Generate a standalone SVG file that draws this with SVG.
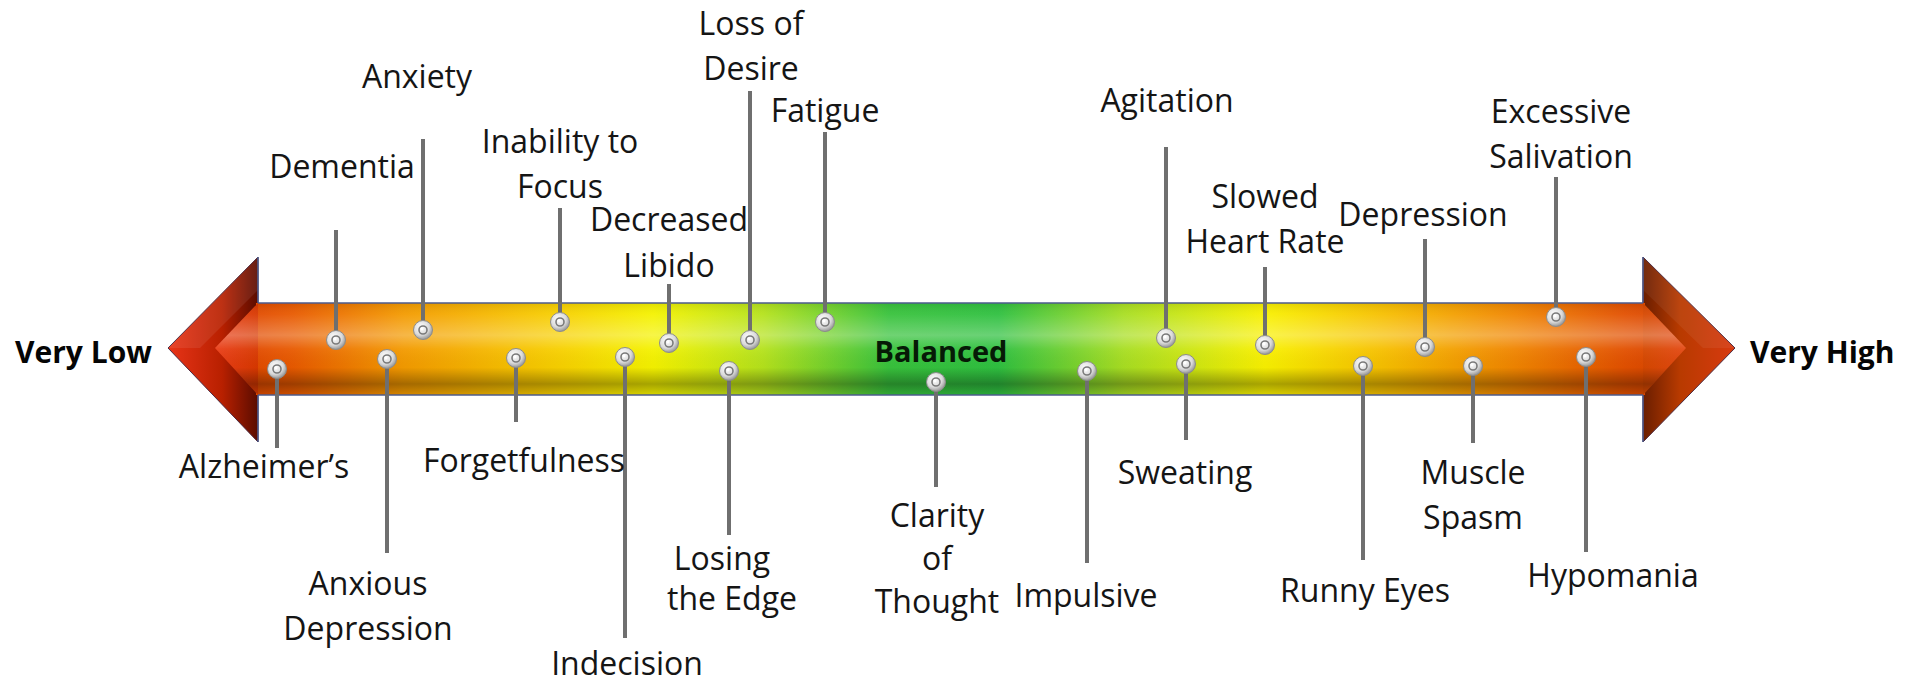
<svg xmlns="http://www.w3.org/2000/svg" xmlns:xlink="http://www.w3.org/1999/xlink" width="1908" height="686" viewBox="0 0 1908 686">
<style>
.lbl{font-family:"Open Sans","Liberation Sans",sans-serif;font-size:32px;fill:#151515;text-anchor:middle}
.end{font-family:"Open Sans","Liberation Sans",sans-serif;font-size:30px;font-weight:bold;fill:#050505}
.bal{font-family:"Open Sans","Liberation Sans",sans-serif;font-size:29px;font-weight:bold;fill:#061a06}
#connectors line{stroke:#6f6f6f;stroke-width:4}
.edge{stroke:#4d5b8c;stroke-width:1.5;fill:none}
</style>
<defs>
<linearGradient id="shaftG" gradientUnits="userSpaceOnUse" x1="168" y1="0" x2="1735" y2="0">
<stop offset="0" stop-color="#d42a00"/>
<stop offset="0.08" stop-color="#e85a00"/>
<stop offset="0.15" stop-color="#f39a00"/>
<stop offset="0.25" stop-color="#f7d000"/>
<stop offset="0.31" stop-color="#f4f200"/>
<stop offset="0.38" stop-color="#b4e21c"/>
<stop offset="0.46" stop-color="#38c23c"/>
<stop offset="0.53" stop-color="#2fc040"/>
<stop offset="0.61" stop-color="#a8de22"/>
<stop offset="0.70" stop-color="#f8f000"/>
<stop offset="0.78" stop-color="#f6bc00"/>
<stop offset="0.86" stop-color="#f08400"/>
<stop offset="0.93" stop-color="#e25000"/>
<stop offset="1" stop-color="#c83000"/>
</linearGradient>
<linearGradient id="shadeG" gradientUnits="userSpaceOnUse" x1="0" y1="303" x2="0" y2="395">
<stop offset="0" stop-color="#000" stop-opacity="0.08"/>
<stop offset="0.12" stop-color="#fff" stop-opacity="0.05"/>
<stop offset="0.35" stop-color="#fff" stop-opacity="0.28"/>
<stop offset="0.5" stop-color="#fff" stop-opacity="0.05"/>
<stop offset="0.7" stop-color="#000" stop-opacity="0.02"/>
<stop offset="0.88" stop-color="#000" stop-opacity="0.32"/>
<stop offset="1" stop-color="#000" stop-opacity="0.12"/>
</linearGradient>
<linearGradient id="headL" gradientUnits="userSpaceOnUse" x1="168" y1="0" x2="258" y2="0">
<stop offset="0" stop-color="#e83418"/>
<stop offset="0.6" stop-color="#b82000"/>
<stop offset="1" stop-color="#5a0c00"/>
</linearGradient>
<linearGradient id="headR" gradientUnits="userSpaceOnUse" x1="1735" y1="0" x2="1643" y2="0">
<stop offset="0" stop-color="#d83a10"/>
<stop offset="0.6" stop-color="#b83a00"/>
<stop offset="1" stop-color="#6a1e00"/>
</linearGradient>
<linearGradient id="innerL" gradientUnits="userSpaceOnUse" x1="200" y1="0" x2="258" y2="0">
<stop offset="0" stop-color="#f04020"/>
<stop offset="1" stop-color="#d83800"/>
</linearGradient>
<linearGradient id="innerR" gradientUnits="userSpaceOnUse" x1="1700" y1="0" x2="1643" y2="0">
<stop offset="0" stop-color="#e84818"/>
<stop offset="1" stop-color="#d64800"/>
</linearGradient>
<clipPath id="bodyClip">
<polygon points="258,303 1643,303 1686,348 1643,395 258,395 215,348"/>
</clipPath>
<radialGradient id="pinG" cx="0.4" cy="0.35" r="0.7">
<stop offset="0" stop-color="#ffffff"/>
<stop offset="0.6" stop-color="#dadada"/>
<stop offset="1" stop-color="#8a8a8a"/>
</radialGradient>
<g id="pin">
<circle r="9.5" fill="url(#pinG)" stroke="#8c8c8c" stroke-width="1"/>
<circle r="4" fill="none" stroke="#7a7a7a" stroke-width="1.6"/>
<circle cx="-1" cy="-1" r="1.4" fill="#fff"/>
</g>
</defs>
<rect width="1908" height="686" fill="#fff"/>

<g id="arrow">
<polygon points="258,257 168,348 258,442" fill="url(#headL)" stroke="#4d2a40" stroke-width="1"/>
<polygon points="1643,257 1735,348 1643,442" fill="url(#headR)" stroke="#4d2a40" stroke-width="1"/>
<rect x="256" y="303" width="1389" height="92" fill="url(#shaftG)"/>
<polygon points="258,303 215,348 258,395" fill="url(#innerL)"/>
<polygon points="1643,303 1686,348 1643,395" fill="url(#innerR)"/>
<rect x="200" y="303" width="1500" height="92" fill="url(#shadeG)" clip-path="url(#bodyClip)"/>
<polygon points="258,257 168,348 200,348 258,290" fill="#fff" fill-opacity="0.08"/>
<polygon points="1643,257 1735,348 1703,348 1643,290" fill="#fff" fill-opacity="0.06"/>
<line class="edge" x1="258" y1="303" x2="1643" y2="303"/>
<line class="edge" x1="258" y1="395" x2="1643" y2="395"/>
<line class="edge" x1="258" y1="257" x2="258" y2="303"/>
<line class="edge" x1="258" y1="395" x2="258" y2="442"/>
<line class="edge" x1="1643" y1="257" x2="1643" y2="303"/>
<line class="edge" x1="1643" y1="395" x2="1643" y2="442"/>
</g>

<g id="scale-labels">
<text class="end" x="15" y="363">Very Low</text>
<text class="end" x="1750" y="363">Very High</text>
<text class="bal" x="941" y="362" text-anchor="middle">Balanced</text>
</g>

<g id="connectors">
<line x1="336" y1="230" x2="336" y2="340"/>
<line x1="423" y1="139" x2="423" y2="330"/>
<line x1="560" y1="208" x2="560" y2="322"/>
<line x1="669" y1="284" x2="669" y2="343"/>
<line x1="750" y1="91" x2="750" y2="340"/>
<line x1="825" y1="132" x2="825" y2="322"/>
<line x1="1166" y1="147" x2="1166" y2="338"/>
<line x1="1265" y1="267" x2="1265" y2="345"/>
<line x1="1425" y1="239" x2="1425" y2="347"/>
<line x1="1556" y1="177" x2="1556" y2="317"/>
<line x1="277" y1="369" x2="277" y2="448"/>
<line x1="387" y1="359" x2="387" y2="553"/>
<line x1="516" y1="358" x2="516" y2="422"/>
<line x1="625" y1="357" x2="625" y2="638"/>
<line x1="729" y1="371" x2="729" y2="535"/>
<line x1="936" y1="382" x2="936" y2="487"/>
<line x1="1087" y1="371" x2="1087" y2="563"/>
<line x1="1186" y1="364" x2="1186" y2="440"/>
<line x1="1363" y1="366" x2="1363" y2="560"/>
<line x1="1473" y1="366" x2="1473" y2="443"/>
<line x1="1586" y1="357" x2="1586" y2="552"/>
</g>

<g id="dementia"><use xlink:href="#pin" x="336" y="340"/><text class="lbl" x="342" y="178">Dementia</text></g>
<g id="anxiety"><use xlink:href="#pin" x="423" y="330"/><text class="lbl" x="417" y="88">Anxiety</text></g>
<g id="inability-to-focus"><use xlink:href="#pin" x="560" y="322"/><text class="lbl" x="560" y="153">Inability to</text><text class="lbl" x="560" y="198">Focus</text></g>
<g id="decreased-libido"><use xlink:href="#pin" x="669" y="343"/><text class="lbl" x="669" y="231">Decreased</text><text class="lbl" x="669" y="277">Libido</text></g>
<g id="loss-of-desire"><use xlink:href="#pin" x="750" y="340"/><text class="lbl" x="751" y="35">Loss of</text><text class="lbl" x="751" y="80">Desire</text></g>
<g id="fatigue"><use xlink:href="#pin" x="825" y="322"/><text class="lbl" x="825" y="122">Fatigue</text></g>
<g id="agitation"><use xlink:href="#pin" x="1166" y="338"/><text class="lbl" x="1167" y="112">Agitation</text></g>
<g id="slowed-heart-rate"><use xlink:href="#pin" x="1265" y="345"/><text class="lbl" x="1265" y="208">Slowed</text><text class="lbl" x="1265" y="253">Heart Rate</text></g>
<g id="depression"><use xlink:href="#pin" x="1425" y="347"/><text class="lbl" x="1423" y="226">Depression</text></g>
<g id="excessive-salivation"><use xlink:href="#pin" x="1556" y="317"/><text class="lbl" x="1561" y="123">Excessive</text><text class="lbl" x="1561" y="168">Salivation</text></g>

<g id="alzheimers"><use xlink:href="#pin" x="277" y="369"/><text class="lbl" x="264" y="478">Alzheimer’s</text></g>
<g id="anxious-depression"><use xlink:href="#pin" x="387" y="359"/><text class="lbl" x="368" y="595">Anxious</text><text class="lbl" x="368" y="640">Depression</text></g>
<g id="forgetfulness"><use xlink:href="#pin" x="516" y="358"/><text class="lbl" x="524" y="472">Forgetfulness</text></g>
<g id="indecision"><use xlink:href="#pin" x="625" y="357"/><text class="lbl" x="627" y="675">Indecision</text></g>
<g id="losing-the-edge"><use xlink:href="#pin" x="729" y="371"/><text class="lbl" x="722" y="570">Losing</text><text class="lbl" x="732" y="610">the Edge</text></g>
<g id="clarity-of-thought"><use xlink:href="#pin" x="936" y="382"/><text class="lbl" x="937" y="527">Clarity</text><text class="lbl" x="937" y="570">of</text><text class="lbl" x="937" y="613">Thought</text></g>
<g id="impulsive"><use xlink:href="#pin" x="1087" y="371"/><text class="lbl" x="1086" y="607">Impulsive</text></g>
<g id="sweating"><use xlink:href="#pin" x="1186" y="364"/><text class="lbl" x="1185" y="484">Sweating</text></g>
<g id="runny-eyes"><use xlink:href="#pin" x="1363" y="366"/><text class="lbl" x="1365" y="602">Runny Eyes</text></g>
<g id="muscle-spasm"><use xlink:href="#pin" x="1473" y="366"/><text class="lbl" x="1473" y="484">Muscle</text><text class="lbl" x="1473" y="529">Spasm</text></g>
<g id="hypomania"><use xlink:href="#pin" x="1586" y="357"/><text class="lbl" x="1613" y="587">Hypomania</text></g>
</svg>
